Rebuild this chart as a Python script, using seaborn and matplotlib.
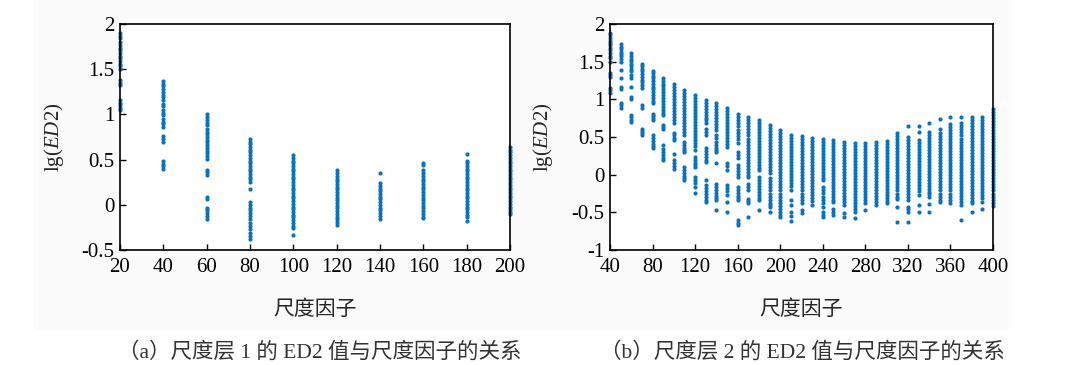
import numpy as np
import pandas as pd
import matplotlib
matplotlib.use("Agg")
import matplotlib.pyplot as plt
from matplotlib.patches import Rectangle
from matplotlib.ticker import FuncFormatter
import seaborn as sns

# --------------------- Data ---------------------
# panel (a): scale layer 1, scale factor 20..200
scale_a = [20, 40, 60, 80, 100, 120, 140, 160, 180, 200]
lg_ed2_a = [
    [1.90, 1.87, 1.84, 1.80, 1.77, 1.74, 1.71, 1.68, 1.65, 1.62, 1.59, 1.56, 1.53, 1.50,
     1.38, 1.35, 1.32, 1.16, 1.13, 1.10, 1.07, 1.05],
    [1.37, 1.34, 1.31, 1.28, 1.25, 1.22, 1.19, 1.16, 1.12, 1.09, 1.05, 1.02, 0.99, 0.95,
     0.92, 0.89, 0.86, 0.76, 0.73, 0.70, 0.48, 0.45, 0.43, 0.40],
    [1.00, 0.97, 0.94, 0.91, 0.88, 0.84, 0.81, 0.78, 0.75, 0.72, 0.69, 0.66, 0.63, 0.60,
     0.57, 0.54, 0.51, 0.39, 0.36, 0.33, 0.09, 0.06, -0.03, -0.06, -0.09, -0.12, -0.16],
    [0.73, 0.70, 0.67, 0.64, 0.61, 0.58, 0.55, 0.52, 0.49, 0.46, 0.43, 0.40, 0.37, 0.34,
     0.31, 0.28, 0.25, 0.17, 0.03, 0.00, -0.03, -0.06, -0.09, -0.12, -0.16, -0.20, -0.24,
     -0.27, -0.31, -0.35, -0.38],
    [0.55, 0.52, 0.49, 0.46, 0.43, 0.40, 0.37, 0.34, 0.31, 0.28, 0.25, 0.22, 0.19, 0.16,
     0.13, 0.10, 0.07, 0.04, 0.01, -0.02, -0.05, -0.08, -0.11, -0.14, -0.17, -0.20, -0.23,
     -0.26, -0.33],
    [0.38, 0.35, 0.32, 0.29, 0.26, 0.23, 0.20, 0.17, 0.14, 0.11, 0.08, 0.05, 0.02, -0.01,
     -0.04, -0.07, -0.10, -0.13, -0.16, -0.19, -0.22],
    [0.35, 0.24, 0.21, 0.18, 0.15, 0.12, 0.09, 0.06, 0.03, 0.00, -0.03, -0.06, -0.09,
     -0.12, -0.16],
    [0.46, 0.44, 0.38, 0.35, 0.32, 0.29, 0.26, 0.23, 0.20, 0.17, 0.14, 0.11, 0.08, 0.05,
     0.02, -0.01, -0.04, -0.07, -0.10, -0.13, -0.15],
    [0.56, 0.49, 0.46, 0.43, 0.40, 0.37, 0.34, 0.31, 0.28, 0.25, 0.22, 0.19, 0.16, 0.13,
     0.10, 0.07, 0.04, 0.01, -0.02, -0.05, -0.08, -0.11, -0.14, -0.18],
    [0.64, 0.61, 0.58, 0.55, 0.52, 0.49, 0.46, 0.43, 0.40, 0.37, 0.34, 0.31, 0.28, 0.25,
     0.22, 0.19, 0.16, 0.13, 0.10, 0.07, 0.04, 0.01, -0.02, -0.05, -0.08, -0.10],
]

# panel (b): scale layer 2, scale factor 40..400
scale_b = list(range(40, 401, 10))
lg_ed2_b = [
    [1.88, 1.85, 1.82, 1.78, 1.75, 1.72, 1.68, 1.65, 1.62, 1.58, 1.55, 1.50, 1.35, 1.32, 1.30, 1.15, 1.12, 1.09],
    [1.73, 1.70, 1.67, 1.63, 1.60, 1.57, 1.53, 1.50, 1.39, 1.28, 1.17, 1.14, 0.95, 0.92, 0.89],
    [1.61, 1.58, 1.54, 1.51, 1.47, 1.44, 1.40, 1.37, 1.32, 1.28, 1.17, 1.03, 1.00, 0.79, 0.76, 0.73, 0.70],
    [1.47, 1.44, 1.40, 1.37, 1.33, 1.30, 1.26, 1.23, 1.19, 1.15, 0.92, 0.89, 0.61, 0.58, 0.55, 0.53],
    [1.38, 1.35, 1.31, 1.28, 1.24, 1.21, 1.17, 1.14, 1.10, 1.06, 1.02, 0.98, 0.95, 0.81, 0.78, 0.75, 0.73,
     0.53, 0.49, 0.45, 0.41, 0.38, 0.35],
    [1.28, 1.25, 1.21, 1.18, 1.14, 1.10, 1.06, 1.02, 0.98, 0.94, 0.90, 0.86, 0.82, 0.79, 0.66, 0.63, 0.60,
     0.39, 0.34, 0.30, 0.26, 0.22, 0.19],
    [1.20, 1.16, 1.12, 1.08, 1.04, 1.00, 0.96, 0.92, 0.88, 0.84, 0.80, 0.76, 0.72, 0.68, 0.55, 0.52, 0.49,
     0.46, 0.28, 0.19, 0.15, 0.11, 0.08],
    [1.12, 1.08, 1.04, 1.00, 0.96, 0.92, 0.88, 0.84, 0.80, 0.76, 0.72, 0.68, 0.64, 0.60, 0.57, 0.53, 0.44,
     0.40, 0.36, 0.33, 0.30, 0.10, 0.06, 0.02, -0.02, -0.05, -0.07],
    [1.06, 1.02, 0.98, 0.94, 0.90, 0.86, 0.82, 0.78, 0.74, 0.70, 0.66, 0.62, 0.58, 0.54, 0.50, 0.46, 0.42,
     0.38, 0.33, 0.24, 0.20, 0.16, 0.13, 0.10, -0.03, -0.07, -0.11, -0.16, -0.24],
    [0.99, 0.95, 0.91, 0.87, 0.83, 0.79, 0.75, 0.72, 0.68, 0.61, 0.57, 0.53, 0.35, 0.31, 0.27, 0.23, 0.20,
     0.17, -0.07, -0.14, -0.18, -0.22, -0.26, -0.30, -0.33, -0.36],
    [0.95, 0.91, 0.87, 0.83, 0.79, 0.75, 0.71, 0.67, 0.63, 0.59, 0.53, 0.49, 0.44, 0.40, 0.36, 0.33, 0.30,
     0.15, -0.12, -0.16, -0.20, -0.24, -0.28, -0.31, -0.34, -0.47],
    [0.89, 0.85, 0.81, 0.77, 0.73, 0.69, 0.65, 0.61, 0.57, 0.53, 0.49, 0.45, 0.41, 0.37, 0.15, 0.11, 0.06,
     -0.14, -0.18, -0.22, -0.27, -0.36, -0.49],
    [0.80, 0.76, 0.72, 0.68, 0.64, 0.59, 0.55, 0.51, 0.47, 0.42, 0.30, 0.26, 0.22, 0.13, 0.09, 0.05, 0.01,
     -0.03, -0.16, -0.20, -0.24, -0.28, -0.31, -0.34, -0.60, -0.64, -0.67],
    [0.77, 0.73, 0.69, 0.64, 0.60, 0.56, 0.52, 0.48, 0.44, 0.40, 0.36, 0.32, 0.28, 0.24, 0.20, 0.16, 0.12,
     0.08, 0.04, 0.00, -0.03, -0.12, -0.16, -0.20, -0.32, -0.35, -0.38, -0.56],
    [0.73, 0.69, 0.65, 0.61, 0.57, 0.53, 0.49, 0.45, 0.41, 0.37, 0.33, 0.29, 0.25, 0.21, 0.17, 0.13, 0.09,
     0.06, -0.03, -0.07, -0.11, -0.15, -0.19, -0.23, -0.27, -0.31, -0.34, -0.47],
    [0.66, 0.62, 0.58, 0.54, 0.50, 0.46, 0.42, 0.38, 0.34, 0.30, 0.26, 0.22, 0.18, 0.14, 0.10, 0.06, 0.02,
     -0.05, -0.09, -0.13, -0.17, -0.21, -0.25, -0.29, -0.33, -0.37, -0.40, -0.43, -0.49],
    [0.59, 0.55, 0.51, 0.47, 0.43, 0.39, 0.35, 0.31, 0.27, 0.23, 0.19, 0.15, 0.11, 0.07, 0.03, -0.01, -0.05,
     -0.09, -0.13, -0.17, -0.20, -0.25, -0.29, -0.33, -0.37, -0.41, -0.45, -0.50, -0.53, -0.56],
    [0.53, 0.49, 0.45, 0.41, 0.37, 0.33, 0.29, 0.25, 0.21, 0.17, 0.13, 0.09, 0.05, 0.01, -0.03, -0.07, -0.11,
     -0.15, -0.20, -0.34, -0.40, -0.49, -0.55, -0.62],
    [0.51, 0.47, 0.43, 0.39, 0.35, 0.31, 0.27, 0.23, 0.19, 0.15, 0.11, 0.07, 0.03, -0.01, -0.05, -0.09, -0.13,
     -0.17, -0.21, -0.25, -0.29, -0.33, -0.38, -0.47, -0.51],
    [0.49, 0.45, 0.41, 0.37, 0.33, 0.29, 0.25, 0.21, 0.17, 0.13, 0.09, 0.05, 0.01, -0.03, -0.07, -0.11, -0.15,
     -0.19, -0.23, -0.27, -0.31, -0.35, -0.40],
    [0.48, 0.44, 0.40, 0.36, 0.32, 0.28, 0.24, 0.20, 0.16, 0.12, 0.08, 0.04, 0.00, -0.04, -0.07, -0.16, -0.20,
     -0.24, -0.29, -0.33, -0.38, -0.43, -0.50, -0.53, -0.56],
    [0.46, 0.42, 0.38, 0.34, 0.30, 0.26, 0.22, 0.18, 0.14, 0.10, 0.06, 0.02, -0.02, -0.06, -0.10, -0.14, -0.18,
     -0.22, -0.26, -0.30, -0.33, -0.36, -0.45, -0.50, -0.54],
    [0.44, 0.40, 0.36, 0.32, 0.28, 0.24, 0.20, 0.16, 0.12, 0.08, 0.04, 0.00, -0.04, -0.08, -0.12, -0.16, -0.20,
     -0.24, -0.28, -0.32, -0.36, -0.40, -0.51, -0.56],
    [0.42, 0.38, 0.34, 0.30, 0.26, 0.22, 0.18, 0.14, 0.10, 0.06, 0.02, -0.02, -0.06, -0.10, -0.14, -0.18, -0.22,
     -0.26, -0.29, -0.34, -0.38, -0.42, -0.46, -0.49, -0.58],
    [0.42, 0.38, 0.34, 0.30, 0.26, 0.22, 0.18, 0.14, 0.10, 0.06, 0.02, -0.02, -0.06, -0.10, -0.14, -0.18, -0.22,
     -0.26, -0.30, -0.34, -0.38, -0.47],
    [0.44, 0.40, 0.36, 0.32, 0.28, 0.24, 0.20, 0.16, 0.12, 0.08, 0.04, 0.00, -0.04, -0.08, -0.12, -0.16, -0.20,
     -0.24, -0.28, -0.32, -0.36, -0.40],
    [0.45, 0.41, 0.37, 0.33, 0.29, 0.25, 0.21, 0.17, 0.13, 0.09, 0.05, 0.01, -0.03, -0.07, -0.11, -0.15, -0.19,
     -0.23, -0.27, -0.31, -0.35, -0.38],
    [0.55, 0.51, 0.47, 0.43, 0.39, 0.35, 0.31, 0.27, 0.23, 0.19, 0.15, 0.11, 0.07, 0.03, -0.01, -0.05, -0.09,
     -0.13, -0.17, -0.21, -0.25, -0.29, -0.32, -0.43, -0.63],
    [0.64, 0.50, 0.46, 0.42, 0.38, 0.34, 0.30, 0.26, 0.22, 0.18, 0.14, 0.10, 0.06, 0.02, -0.02, -0.06, -0.10,
     -0.14, -0.18, -0.22, -0.26, -0.30, -0.34, -0.43, -0.46, -0.49, -0.63],
    [0.65, 0.57, 0.46, 0.42, 0.38, 0.34, 0.30, 0.26, 0.22, 0.18, 0.14, 0.10, 0.06, 0.02, -0.02, -0.06, -0.10,
     -0.14, -0.18, -0.22, -0.27, -0.40, -0.50],
    [0.69, 0.57, 0.53, 0.49, 0.45, 0.41, 0.37, 0.33, 0.29, 0.25, 0.21, 0.17, 0.13, 0.09, 0.05, 0.01, -0.03,
     -0.07, -0.11, -0.15, -0.19, -0.23, -0.26, -0.29, -0.39, -0.50],
    [0.74, 0.61, 0.55, 0.51, 0.47, 0.43, 0.39, 0.35, 0.31, 0.27, 0.23, 0.19, 0.15, 0.11, 0.07, 0.03, -0.01,
     -0.05, -0.09, -0.13, -0.17, -0.21, -0.25, -0.29, -0.33, -0.36],
    [0.76, 0.67, 0.63, 0.59, 0.55, 0.51, 0.47, 0.43, 0.39, 0.35, 0.31, 0.27, 0.23, 0.19, 0.15, 0.11, 0.07,
     0.03, -0.01, -0.05, -0.09, -0.13, -0.17, -0.21, -0.25, -0.29, -0.33, -0.38],
    [0.76, 0.68, 0.64, 0.60, 0.56, 0.52, 0.48, 0.44, 0.40, 0.36, 0.32, 0.28, 0.24, 0.20, 0.16, 0.12, 0.08,
     0.04, 0.00, -0.04, -0.08, -0.12, -0.16, -0.20, -0.24, -0.28, -0.32, -0.36, -0.40, -0.60],
    [0.77, 0.73, 0.69, 0.65, 0.61, 0.57, 0.53, 0.49, 0.45, 0.41, 0.37, 0.33, 0.29, 0.25, 0.21, 0.17, 0.13,
     0.09, 0.05, 0.01, -0.03, -0.07, -0.11, -0.15, -0.19, -0.23, -0.27, -0.31, -0.35, -0.38, -0.50],
    [0.77, 0.73, 0.69, 0.65, 0.61, 0.57, 0.53, 0.49, 0.45, 0.41, 0.37, 0.33, 0.29, 0.25, 0.21, 0.17, 0.13,
     0.09, 0.05, 0.01, -0.03, -0.07, -0.11, -0.15, -0.19, -0.23, -0.27, -0.31, -0.36, -0.45],
    [0.87, 0.83, 0.79, 0.75, 0.71, 0.67, 0.63, 0.59, 0.55, 0.51, 0.47, 0.43, 0.39, 0.35, 0.31, 0.27, 0.23,
     0.19, 0.15, 0.11, 0.07, 0.03, -0.01, -0.05, -0.09, -0.13, -0.17, -0.21, -0.25, -0.29, -0.33, -0.37,
     -0.41],
]

xticks_a = [20, 40, 60, 80, 100, 120, 140, 160, 180, 200]
yticks_a = [-0.5, 0, 0.5, 1, 1.5, 2]
xticks_b = [40, 80, 120, 160, 200, 240, 280, 320, 360, 400]
yticks_b = [-1, -0.5, 0, 0.5, 1, 1.5, 2]

x_label = "尺度因子"
y_label = r"lg($\mathit{ED2}$)"
caption_a = "（a）尺度层 1 的 ED2 值与尺度因子的关系"
caption_b = "（b）尺度层 2 的 ED2 值与尺度因子的关系"

DOT_COLOR = "#0a72bd"


def to_long(scales, columns):
    xs, ys = [], []
    for s, col in zip(scales, columns):
        xs.extend([s] * len(col))
        ys.extend(col)
    return pd.DataFrame({"scale": xs, "lg_ed2": ys})


# --------------------- Style ---------------------
sns.set_style("ticks")
plt.rcParams["font.family"] = ["Liberation Serif", "Noto Sans CJK SC"]
plt.rcParams["mathtext.fontset"] = "custom"
plt.rcParams["mathtext.rm"] = "Liberation Serif"
plt.rcParams["mathtext.it"] = "Liberation Serif:italic"
plt.rcParams["axes.unicode_minus"] = False

W, H = 1068, 365
fig = plt.figure(figsize=(W / 100, H / 100), dpi=100)
# faint grey backing behind both panels, as in the scanned figure
fig.patches.append(Rectangle((34 / W, 1 - 329 / H), (1009 - 34) / W, 329 / H,
                             transform=fig.transFigure, color="#fbfbfb", zorder=-10))

fmt = FuncFormatter(lambda v, p: f"{v:g}")


def draw_panel(rect, df, xlim, ylim, xticks, yticks, ylabel_x, caption, cap_x):
    ax = fig.add_axes([rect[0] / W, 1 - rect[3] / H, (rect[2] - rect[0]) / W, (rect[3] - rect[1]) / H])
    ax.set_facecolor("white")
    sns.scatterplot(data=df, x="scale", y="lg_ed2", ax=ax, color=DOT_COLOR, s=9,
                    linewidth=0, clip_on=False, legend=False)
    ax.set_xlim(xlim)
    ax.set_ylim(ylim)
    ax.set_xticks(xticks)
    ax.set_yticks(yticks)
    ax.xaxis.set_major_formatter(fmt)
    ax.yaxis.set_major_formatter(fmt)
    ax.tick_params(direction="in", length=4, width=1.0, labelsize=15, pad=4,
                   top=False, right=False, colors="black")
    ax.tick_params(axis="x", pad=6)
    for sp in ax.spines.values():
        sp.set_linewidth(1.2)
        sp.set_color("black")
    ax.set_xlabel(x_label, fontsize=15)
    ax.xaxis.label.set_va("center")
    ax.xaxis.set_label_coords(0.5, -(310 - rect[3]) / (rect[3] - rect[1]))
    ax.set_ylabel(y_label, fontsize=15)
    ax.yaxis.label.set_va("center")
    ax.yaxis.set_label_coords(-(rect[0] - ylabel_x) / (rect[2] - rect[0]), 0.5)
    fig.text(cap_x / W, 1 - 352 / H, caption, ha="center", va="center",
             fontsize=15.5, color="#333333")
    return ax


df_a = to_long(scale_a, lg_ed2_a)
df_b = to_long(scale_b, lg_ed2_b)

draw_panel((120, 24, 510, 250), df_a, (20, 200), (-0.5, 2), xticks_a, yticks_a, 54, caption_a, 320)
draw_panel((610, 24, 993, 250), df_b, (40, 400), (-1, 2), xticks_b, yticks_b, 543, caption_b, 802)

fig.savefig("out.png", dpi=100)
